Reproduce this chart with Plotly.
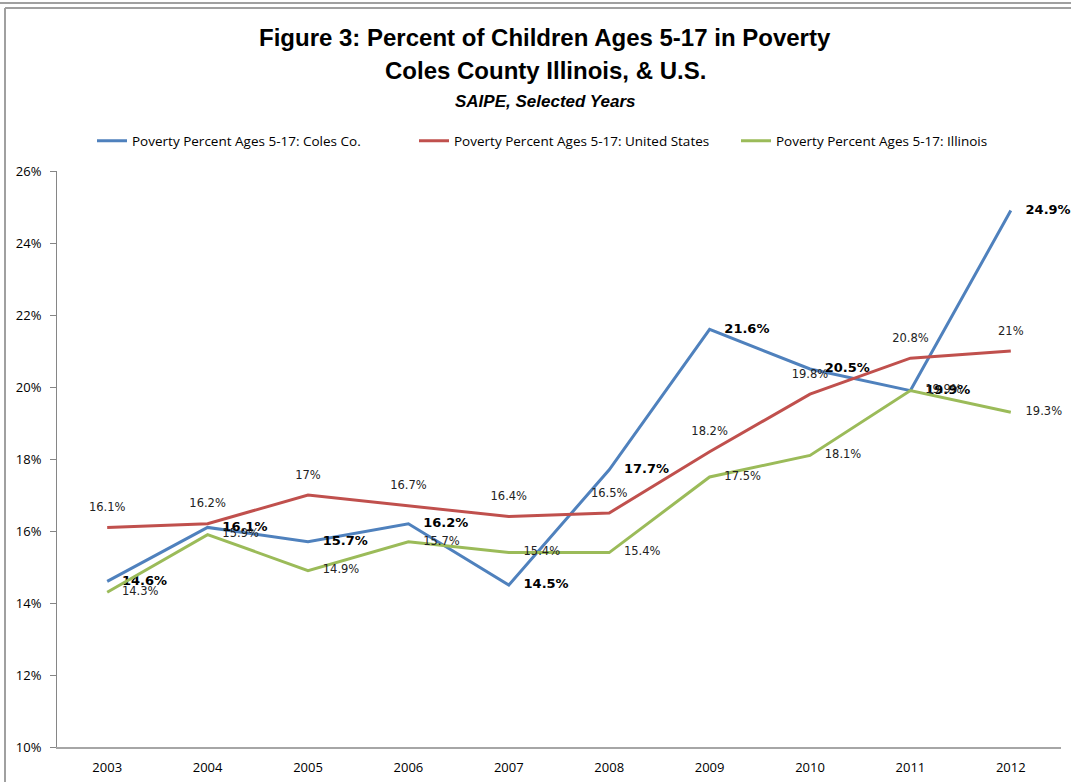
import plotly.graph_objects as go

years = ["2003", "2004", "2005", "2006", "2007", "2008", "2009", "2010", "2011", "2012"]
coles = [14.6, 16.1, 15.7, 16.2, 14.5, 17.7, 21.6, 20.5, 19.9, 24.9]
united_states = [16.1, 16.2, 17.0, 16.7, 16.4, 16.5, 18.2, 19.8, 20.8, 21.0]
illinois = [14.3, 15.9, 14.9, 15.7, 15.4, 15.4, 17.5, 18.1, 19.9, 19.3]

names = ["Poverty Percent Ages 5-17: Coles Co.",
         "Poverty Percent Ages 5-17: United States",
         "Poverty Percent Ages 5-17: Illinois"]
colors = ["#4F81BD", "#C0504D", "#9BBB59"]
ytick_vals = [10, 12, 14, 16, 18, 20, 22, 24, 26]
ytick_text = ["10%", "12%", "14%", "16%", "18%", "20%", "22%", "24%", "26%"]

def fmt(v):
    return ("%g" % v) + "%"

fig = go.Figure()
fig.add_trace(go.Scatter(
    x=years, y=coles, name=names[0], mode="lines+markers+text",
    line=dict(color=colors[0], width=3),
    marker=dict(size=22, color="rgba(0,0,0,0)"),
    text=[fmt(v) for v in coles], textposition="middle right",
    textfont=dict(family="DejaVu Sans", size=13, color="#000000", weight="bold"),
    cliponaxis=False, hoverinfo="skip"))
fig.add_trace(go.Scatter(
    x=years, y=united_states, name=names[1], mode="lines+markers+text",
    line=dict(color=colors[1], width=3),
    marker=dict(size=20, color="rgba(0,0,0,0)"),
    text=[fmt(v) for v in united_states], textposition="top center",
    textfont=dict(family="DejaVu Sans", size=11.5, color="#222222"),
    cliponaxis=False, hoverinfo="skip"))
fig.add_trace(go.Scatter(
    x=years, y=illinois, name=names[2], mode="lines+markers+text",
    line=dict(color=colors[2], width=3),
    marker=dict(size=22, color="rgba(0,0,0,0)"),
    text=[fmt(v) for v in illinois], textposition="middle right",
    textfont=dict(family="DejaVu Sans", size=11.5, color="#222222"),
    cliponaxis=False, hoverinfo="skip"))

W, H = 1071, 782

def cx(p):
    return p / W

def cy(p):
    return 1 - p / H

title_font = "Liberation Sans, Arial, sans-serif"

fig.update_layout(
    width=W, height=H,
    margin=dict(l=57, r=10, t=171, b=35, autoexpand=False),
    paper_bgcolor="white", plot_bgcolor="white",
    showlegend=True,
    legend=dict(orientation="h", xref="container", yref="container",
                x=cx(92), y=cy(141), xanchor="left", yanchor="middle",
                font=dict(family="Open Sans", size=13.5, color="#000000"),
                itemwidth=30, entrywidth=277, entrywidthmode="pixels"),
    xaxis=dict(type="category", range=[-0.5, 9.5], showgrid=False, zeroline=False,
               showline=True, linecolor="#A6A6A6", linewidth=2, ticks="",
               ticklabelstandoff=7,
               tickfont=dict(family="Open Sans", size=13, color="#000000"),
               fixedrange=True),
    yaxis=dict(range=[10, 26], tickvals=ytick_vals, ticktext=ytick_text, showgrid=False,
               zeroline=False, showline=True, linecolor="#868686", linewidth=1,
               ticks="outside", ticklen=6, tickcolor="#868686", ticklabelstandoff=6,
               tickfont=dict(family="Open Sans", size=13, color="#000000"),
               fixedrange=True),
    annotations=[
        dict(text="<b>Figure 3: Percent of Children Ages 5-17 in Poverty</b>",
             xref="paper", yref="paper", x=(545 - 57) / 1004, y=(747 - 37) / 576,
             showarrow=False, xanchor="center", yanchor="middle",
             font=dict(family=title_font, size=24, color="#000000")),
        dict(text="<b>Coles County Illinois, &amp; U.S.</b>",
             xref="paper", yref="paper", x=(545 - 57) / 1004, y=(747 - 71) / 576,
             showarrow=False, xanchor="center", yanchor="middle",
             font=dict(family=title_font, size=24, color="#000000")),
        dict(text="<b><i>SAIPE, Selected Years</i></b>",
             xref="paper", yref="paper", x=(545 - 57) / 1004, y=(747 - 101) / 576,
             showarrow=False, xanchor="center", yanchor="middle",
             font=dict(family=title_font, size=17, color="#000000")),
    ],
)

# Outer chart frame (decorative border, in paper units of the fixed plot area)
def px_x(p):
    return (p - 57) / 1004.0

def px_y(p):
    return (747 - p) / 576.0

for x0, y0, x1, y1 in [(0, 3, W, 3), (5, 8, W, 8), (5, 8, 5, H)]:
    fig.add_shape(type="line", xref="paper", yref="paper",
                  x0=px_x(x0), x1=px_x(x1), y0=px_y(y0), y1=px_y(y1),
                  line=dict(color="#A0A0A0", width=2))

fig.write_html("out.html", config={"displayModeBar": False},
               post_script="document.body.style.margin='0';")
